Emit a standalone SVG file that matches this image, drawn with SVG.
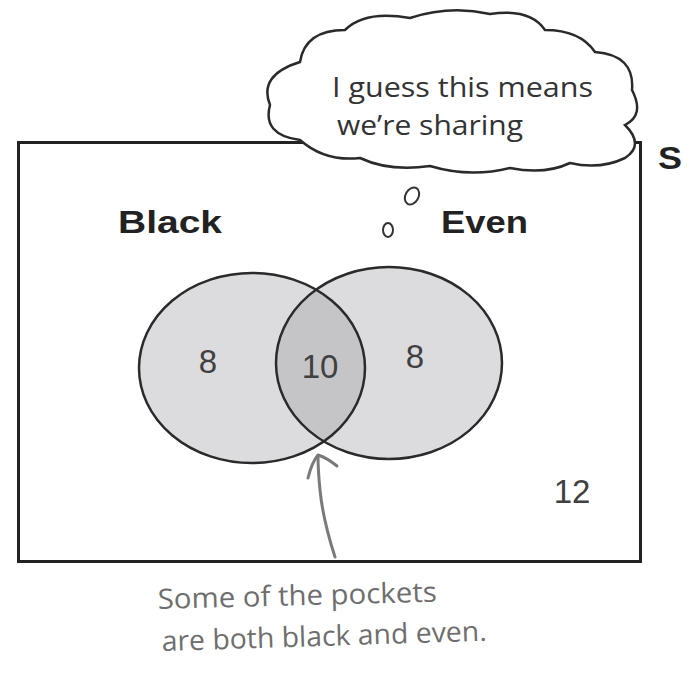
<svg xmlns="http://www.w3.org/2000/svg" width="696" height="681" viewBox="0 0 696 681">
<defs>
<style>
.frame{fill:none;stroke:#222;stroke-width:3}
.set{fill:#dcdcde;stroke:none}
.outline{fill:none;stroke:#2a2a2a;stroke-width:2.5}
.num{font-family:"Liberation Sans",Arial,sans-serif;font-size:33px;fill:#404040;text-anchor:middle}
.lbl{font-family:"Liberation Sans",Arial,sans-serif;font-weight:bold;font-size:31px;fill:#222}
.hand{font-family:"Open Sans","DejaVu Sans",sans-serif;font-size:28px;fill:#333}
.note{font-family:"Open Sans","DejaVu Sans",sans-serif;font-size:28px;fill:#6e6e6e}
.pen{fill:none;stroke:#7a7a7a;stroke-width:3;stroke-linecap:round;stroke-linejoin:round}
</style>
<clipPath id="clipBlack"><ellipse cx="252" cy="368" rx="113" ry="95"/></clipPath>
</defs>
<rect width="696" height="681" fill="#fff"/>
<g id="universe">
<rect class="frame" x="18.5" y="142.5" width="622" height="419"/>
<text class="lbl" x="658" y="169" textLength="24" lengthAdjust="spacingAndGlyphs">S</text>
<text class="num" x="572" y="503">12</text>
</g>
<g id="black">
<ellipse class="set" cx="252" cy="368" rx="113" ry="95"/>
<text class="lbl" x="118" y="233" textLength="104" lengthAdjust="spacingAndGlyphs">Black</text>
<text class="num" x="208" y="373">8</text>
</g>
<g id="even">
<ellipse class="set" cx="389" cy="363" rx="113" ry="96"/>
<text class="lbl" x="441" y="233" textLength="87" lengthAdjust="spacingAndGlyphs">Even</text>
<text class="num" x="415" y="368">8</text>
</g>
<g id="both">
<ellipse cx="389" cy="363" rx="113" ry="96" fill="#c5c5c7" clip-path="url(#clipBlack)"/>
<ellipse class="outline" cx="252" cy="368" rx="113" ry="95"/>
<ellipse class="outline" cx="389" cy="363" rx="113" ry="96"/>
<text class="num" x="320" y="378">10</text>
</g>
<g id="thought">
<path class="outline" style="fill:#fff" d="M300,140 Q262,135 270,105 Q258,75 300,62 Q305,30 345,30 Q365,10 410,18 Q450,5 490,14 Q530,8 545,30 Q580,30 595,52 Q635,55 632,90 Q645,115 625,125 Q645,145 625,158 Q600,170 570,163 Q545,175 510,168 Q470,178 430,166 Q390,172 360,158 Q325,162 300,140 Z"/>
<text class="hand" x="332" y="97" textLength="261" lengthAdjust="spacingAndGlyphs">I guess this means</text>
<text class="hand" x="337" y="135" textLength="186" lengthAdjust="spacingAndGlyphs">we’re sharing</text>
<ellipse fill="none" stroke="#333" stroke-width="2" cx="412" cy="196" rx="6.5" ry="9" transform="rotate(30 412 196)"/>
<ellipse fill="none" stroke="#333" stroke-width="2" cx="388" cy="230" rx="5" ry="7"/>
</g>
<g id="connectors">
<path class="pen" d="M335,557 Q323,520 320,490 Q318,470 318,456"/>
<path class="pen" d="M308,478 Q312,462 318,455 Q327,458 337,466"/>
</g>
<g id="annotation">
<text class="note" x="158" y="609" textLength="279" lengthAdjust="spacingAndGlyphs" transform="rotate(-1.5 158 609)">Some of the pockets</text>
<text class="note" x="162" y="651" textLength="325" lengthAdjust="spacingAndGlyphs" transform="rotate(-1.8 162 651)">are both black and even.</text>
</g>
</svg>
